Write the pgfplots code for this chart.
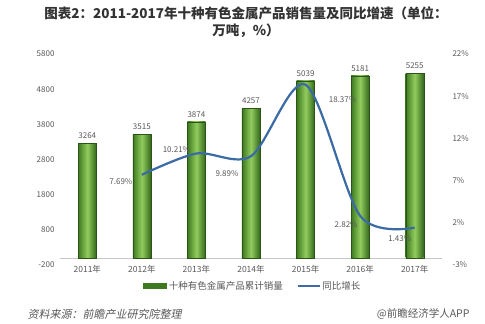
\documentclass[border=0pt]{standalone}
\usepackage{pgfplots}
\pgfplotsset{compat=1.18}
\usepackage{fontspec}
\setmainfont{Noto Sans CJK SC}
\newfontfamily\footfont[FakeSlant=0.2]{Noto Sans CJK SC}
\definecolor{txt}{HTML}{595959}
\definecolor{ttl}{HTML}{333333}
\definecolor{gdark}{HTML}{3D7A1F}
\definecolor{glight}{HTML}{92CC5E}
\definecolor{lineblue}{HTML}{3B6BA5}
\begin{document}
\begin{tikzpicture}[x=1pt,y=1pt]
\path[use as bounding box,fill=white] (0,0) rectangle (485,324);
\begin{axis}[
  at={(60pt,59pt)}, anchor=south west,
  scale only axis, width=382pt, height=211pt,
  xmin=-0.5, xmax=6.5, ymin=-200, ymax=5800,
  ytick={-200,800,1800,2800,3800,4800,5800},
  xtick={0,...,6},
  xticklabels={2011年,2012年,2013年,2014年,2015年,2016年,2017年},
  axis line style={draw=none}, tick style={draw=none},
  /pgf/number format/assume math mode=true,
  /pgf/number format/1000 sep={},
  ticklabel style={font=\fontsize{8}{9}\selectfont, text=txt},
  xticklabel style={yshift=3pt, font=\fontsize{8.5}{9}\selectfont},
  yticklabel style={xshift=-2pt},
  axis y line*=left,
  clip=false,
  bargr/.style={ybar, bar width=18pt, bar shift=0pt, draw=gdark!70!black,
    left color=gdark, right color=gdark!85!black, middle color=glight,
    nodes near coords, every node near coord/.append style={font=\fontsize{8}{9}\selectfont, text=txt, yshift=1pt},
    point meta=explicit symbolic},
]
\draw[gray!45] (axis cs:-0.5,0) -- (axis cs:6.5,0);
\addplot[bargr] coordinates {(0,3264) [3264]};
\addplot[bargr] coordinates {(1,3515) [3515]};
\addplot[bargr] coordinates {(2,3874) [3874]};
\addplot[bargr] coordinates {(3,4257) [4257]};
\addplot[bargr] coordinates {(4,5039) [5039]};
\addplot[bargr] coordinates {(5,5181) [5181]};
\addplot[bargr] coordinates {(6,5255) [5255]};
\end{axis}
\begin{axis}[
  at={(60pt,59pt)}, anchor=south west,
  scale only axis, width=382pt, height=211pt,
  xmin=-0.5, xmax=6.5, ymin=-3, ymax=22,
  ytick={-3,2,7,12,17,22},
  yticklabel={\pgfmathprintnumber{\tick}\%},
  axis x line=none,
  axis y line*=right,
  axis line style={draw=none}, tick style={draw=none},
  /pgf/number format/assume math mode=true,
  ticklabel style={font=\fontsize{8}{9}\selectfont, text=txt},
  yticklabel style={xshift=7pt},
  clip=false,
  legend style={at={(0.505,-0.1)}, anchor=center, draw=none, fill=none,
    legend columns=2, font=\fontsize{9.5}{10}\selectfont, text=txt,
    /tikz/every even column/.append style={column sep=12pt}},
]
\addlegendimage{legend image code/.code={\fill[gdark] (0pt,-2.5pt) rectangle (23pt,2.5pt);}}
\addlegendentry{十种有色金属产品累计销量}
\addplot[lineblue, line width=2.2pt, smooth, mark=none,
  legend image code/.code={\draw[lineblue, line width=1.5pt] (0pt,0pt) -- (22pt,0pt);}]
  coordinates {(1,7.69) (2,10.21) (3,9.89) (4,18.37) (5,2.82) (6,1.43)};
\addlegendentry{同比增长}
\tikzset{pl/.style={font=\fontsize{8}{9}\selectfont, text=txt, inner sep=0pt}}
\node[pl, xshift=-21pt, yshift=-7pt] at (axis cs:1,7.69) {7.69\%};
\node[pl, xshift=-20pt, yshift=4pt] at (axis cs:2,10.21) {10.21\%};
\node[pl, xshift=-24pt, yshift=-17pt] at (axis cs:3,9.89) {9.89\%};
\node[pl, xshift=37pt, yshift=-15pt] at (axis cs:4,18.37) {18.37\%};
\node[pl, xshift=-14pt, yshift=-9pt] at (axis cs:5,2.82) {2.82\%};
\node[pl, xshift=-15pt, yshift=-11pt] at (axis cs:6,1.43) {1.43\%};
\end{axis}
\node[font=\bfseries\fontsize{13.5}{14}\selectfont, text=ttl] at (246,311) {图表2：2011-2017年十种有色金属产品销售量及同比增速（单位：};
\node[font=\bfseries\fontsize{13.5}{14}\selectfont, text=ttl] at (246,293) {万吨，\%）};
\node[anchor=west, font=\footfont\fontsize{11}{12}\selectfont, text=txt] at (24,10) {资料来源：前瞻产业研究院整理};
\node[anchor=east, font=\fontsize{10.5}{12}\selectfont, text=txt] at (473,10) {@前瞻经济学人APP};
\end{tikzpicture}
\end{document}
